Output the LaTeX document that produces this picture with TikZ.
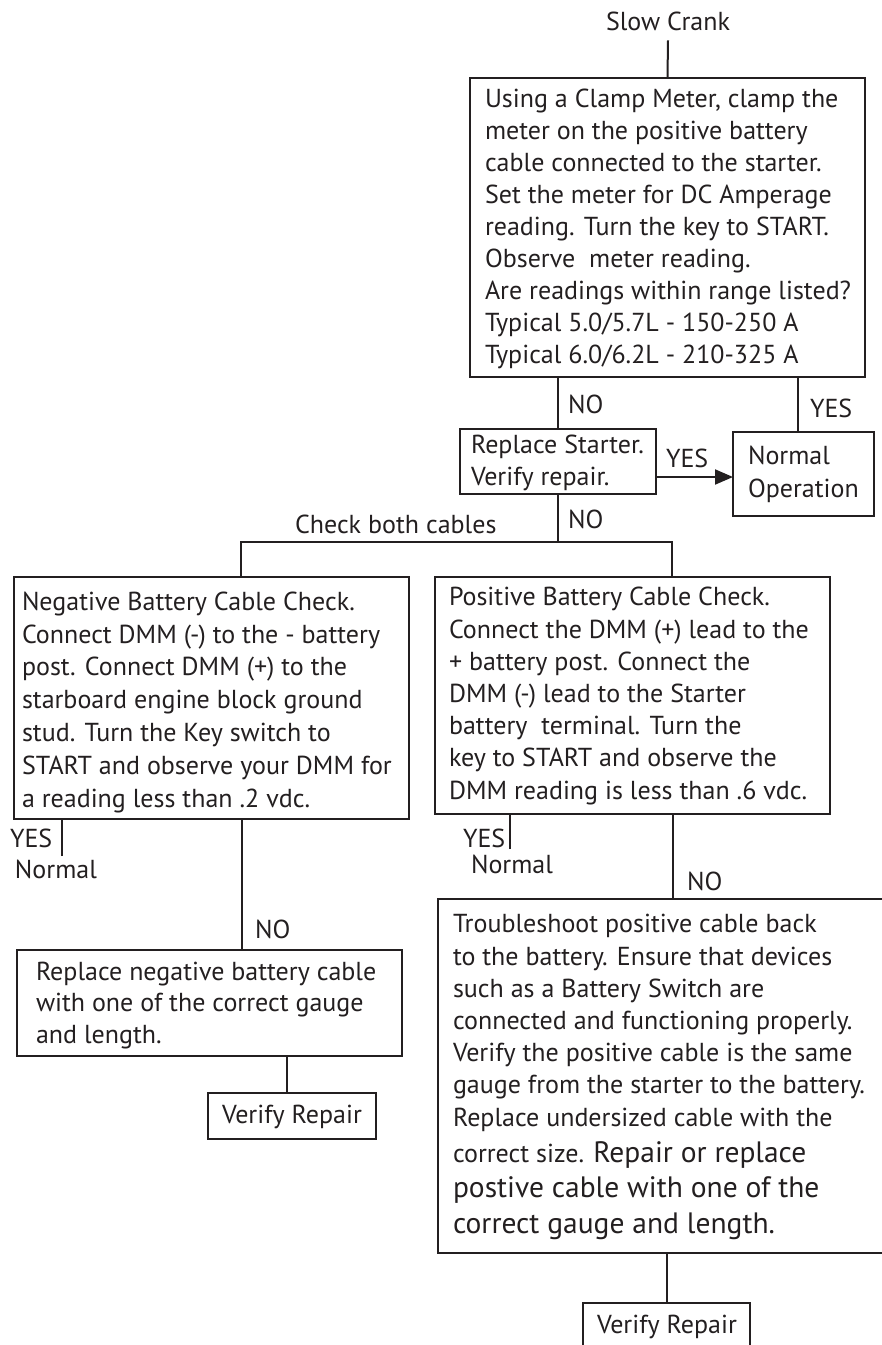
\documentclass[tikz,border=0pt]{standalone}
\usepackage{fontspec}
\setmainfont{PT Sans}
\usetikzlibrary{arrows.meta}
\definecolor{ink}{HTML}{231F20}
\begin{document}
\begin{tikzpicture}[x=1pt,y=-1pt,
  box/.style={draw=ink, line width=2pt, anchor=north west, inner sep=0pt, outer sep=0pt},
  txt/.style={anchor=base west, inner sep=0pt, outer sep=0pt, text=ink, align=left, font=\fontsize{26}{32.2}\selectfont},
  big/.style={txt, font=\fontsize{29.5}{35.5}\selectfont},
  link/.style={draw=ink, line width=2pt}
]
\useasboundingbox (0,0) rectangle (882,1345);
\clip (0,0) rectangle (882,1345);

% boxes
\node[box, minimum width=395pt, minimum height=299pt] (top) at (470,78) {};
\node[box, minimum width=196pt, minimum height=65pt] (rs) at (460,429) {};
\node[box, minimum width=141pt, minimum height=84pt] (norm) at (733,432) {};
\node[box, minimum width=395pt, minimum height=242pt] (neg) at (14,577) {};
\node[box, minimum width=395pt, minimum height=237pt] (pos) at (435,577) {};
\node[box, minimum width=385pt, minimum height=106pt] (rneg) at (17,950) {};
\node[box, minimum width=168pt, minimum height=46pt] (vr1) at (208,1093) {};
\node[box, minimum width=470pt, minimum height=354pt] (ts) at (438,899) {};
\node[box, minimum width=167pt, minimum height=70pt] (vr2) at (583,1303) {};

% texts (multi-line nodes are placed by the baseline of their last line)
\node[txt, anchor=base] (slow) at (668,30) {Slow Crank};
\node[txt, font=\fontsize{26}{32}\selectfont] (ttop) at (485,363) {Using a Clamp Meter, clamp the\\meter on the positive battery\\cable connected to the starter.\\Set the meter for DC Amperage\\reading. Turn the key to START.\\Observe\ \ meter reading.\\Are readings within range listed?\\Typical 5.0/5.7L - 150-250 A\\Typical 6.0/6.2L - 210-325 A};
\node[txt, font=\fontsize{26}{32}\selectfont] (trs) at (471,485) {Replace Starter.\\Verify repair.};
\node[txt, font=\fontsize{26}{33}\selectfont] (tnorm) at (748,497) {Normal\\Operation};
\node[txt, font=\fontsize{26}{32.8}\selectfont] (tneg) at (22,807) {Negative Battery Cable Check.\\Connect DMM (-) to the - battery\\post.  Connect DMM (+) to the\\starboard engine block ground\\stud. Turn the Key switch to\\START and observe your DMM for\\a reading less than .2 vdc.};
\node[txt] (tpos) at (449,799) {Positive Battery Cable Check.\\Connect the DMM (+) lead to the\\+ battery post.  Connect the\\DMM (-) lead to the Starter\\battery\ \ terminal. Turn the\\key to START and observe the\\DMM reading is less than .6 vdc.};
\node[txt, font=\fontsize{26}{31.5}\selectfont] (trneg) at (36,1043) {Replace negative battery cable\\with one of the correct gauge\\and length.};
\node[txt] (tvr1) at (222,1123) {Verify Repair};
\node[txt] (tts) at (453,1126) {Troubleshoot positive cable back\\to the battery.  Ensure that devices\\such as a Battery Switch are\\connected and functioning properly.\\Verify the positive cable is the same\\gauge from the starter to the battery.\\Replace undersized cable with the};
\node[txt] (tts2) at (453,1162) {correct size. {\fontsize{29.5}{35.5}\selectfont Repair or replace}};
\node[big] (tts3) at (453,1233) {postive cable with one of the\\correct gauge and length.};
\node[txt] (tvr2) at (597,1333) {Verify Repair};

% labels
\node[txt] (l1) at (568,413) {NO};
\node[txt] (l2) at (810,417) {YES};
\node[txt] (l3) at (666,467) {YES};
\node[txt] (l4) at (568,528) {NO};
\node[txt] (l5) at (295,533) {Check both cables};
\node[txt] (l6) at (10,847) {YES};
\node[txt] (l7) at (15,878) {Normal};
\node[txt] (l8) at (255,938) {NO};
\node[txt] (l9) at (463,847) {YES};
\node[txt] (l10) at (471,873) {Normal};
\node[txt] (l11) at (687,890) {NO};

% connectors
\coordinate (j) at (558,542);
\coordinate (yn) at (62,856);
\coordinate (yp) at (510,849);
\draw[link] (slow.south) ++(0,10) -- (top.north);
\draw[link] (rs.north) -- (rs.north |- top.south);
\draw[link] ([xshift=-5.5pt]norm.north) -- ([xshift=-5.5pt]norm.north |- top.south);
\draw[link, -{Triangle[length=18pt,width=15pt]}] ([yshift=-15.5pt]rs.east) -- ([yshift=-15.5pt]rs.east -| norm.west);
\draw[link] (rs.south) -- (j);
\draw[link] ([xshift=29.5pt]neg.north) |- (j) -| ([xshift=39.5pt]pos.north);
\draw[link] (yn) -- (yn |- neg.south);
\draw[link] ([xshift=32.5pt]rneg.north) -- ([xshift=32.5pt]rneg.north |- neg.south);
\draw[link] ([xshift=-5pt]vr1.north) -- ([xshift=-5pt]vr1.north |- rneg.south);
\draw[link] (yp) -- (yp |- pos.south);
\draw[link] (ts.north) -- (ts.north |- pos.south);
\draw[link] (vr2.north) -- (vr2.north |- ts.south);
\end{tikzpicture}
\end{document}
